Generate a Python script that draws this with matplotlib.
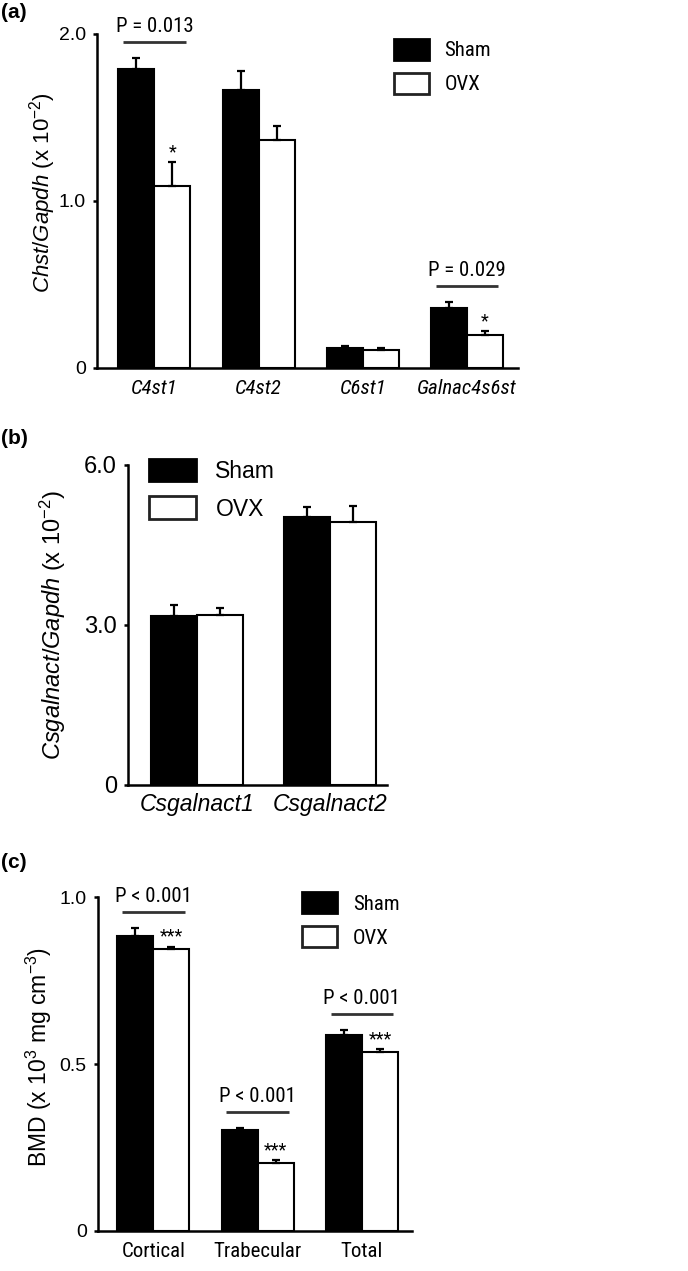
import matplotlib
matplotlib.use("Agg")
from matplotlib import pyplot as plt
from matplotlib import font_manager
from matplotlib.patches import Patch
import numpy as np

# BLOCK: fonts
# panels (a) and (c) use a condensed face, (b) and the axis titles a plain Arial-like one
installed = {f.name for f in font_manager.fontManager.ttflist}
narrow = "Liberation Sans"
for cand in ["Liberation Sans Narrow", "Roboto Condensed", "Archivo Narrow", "PT Sans Narrow"]:
  if cand in installed:
    narrow = cand
    break
plain = "Liberation Sans"
plt.rcParams["font.family"] = [plain, "DejaVu Sans"]
plt.rcParams["mathtext.fontset"] = "custom"
plt.rcParams["mathtext.rm"] = plain
plt.rcParams["mathtext.it"] = plain + ":italic"
plt.rcParams["mathtext.bf"] = plain + ":bold"

# BLOCK: data
# (a) Chst / Gapdh (x 10^-2)
genes_a = ["C4st1", "C4st2", "C6st1", "Galnac4s6st"]
sham_a = [1.79, 1.665, 0.118, 0.357]
sham_a_err = [0.065, 0.115, 0.013, 0.040]
ovx_a = [1.09, 1.365, 0.108, 0.198]
ovx_a_err = [0.145, 0.085, 0.010, 0.024]
stars_a = ["*", "", "", "*"]
pvals_a = ["P = 0.013", "", "", "P = 0.029"]

# (b) Csgalnact / Gapdh (x 10^-2)
genes_b = ["Csgalnact1", "Csgalnact2"]
sham_b = [3.16, 5.03]
sham_b_err = [0.22, 0.18]
ovx_b = [3.19, 4.93]
ovx_b_err = [0.12, 0.30]
stars_b = ["", ""]
pvals_b = ["", ""]

# (c) BMD (x 10^3 mg cm^-3)
sites_c = ["Cortical", "Trabecular", "Total"]
sham_c = [0.885, 0.302, 0.587]
sham_c_err = [0.022, 0.005, 0.015]
ovx_c = [0.844, 0.202, 0.537]
ovx_c_err = [0.008, 0.010, 0.007]
stars_c = ["***", "***", "***"]
pvals_c = ["P < 0.001", "P < 0.001", "P < 0.001"]

W = 0.345


def draw_panel(ax, labels, sham, sham_err, ovx, ovx_err, stars, pvals,
               ymax, yticks, yticklabels, ylabel, italic, xlim,
               legend_xy, handlelength, handletextpad,
               fam, fs, ytick_fs, ylabel_fs, xpad):
  x = np.arange(len(labels))
  ebar = dict(ecolor="black", elinewidth=1.6, capsize=3, capthick=1.6)
  ax.bar(x - W / 2, sham, W, yerr=[np.zeros(len(x)), sham_err],
         color="black", edgecolor="black", linewidth=1.5, error_kw=ebar, label="Sham")
  ax.bar(x + W / 2, ovx, W, yerr=[np.zeros(len(x)), ovx_err],
         color="white", edgecolor="black", linewidth=1.5, error_kw=ebar, label="OVX")

  for i in range(len(x)):
    top = max(sham[i] + sham_err[i], ovx[i] + ovx_err[i])
    if stars[i]:
      ax.annotate(stars[i], (x[i] + W / 2, ovx[i] + ovx_err[i]), xytext=(0, 3.5),
                  textcoords="offset points", ha="center", va="baseline",
                  fontsize=13, family=fam)
    if pvals[i]:
      ly = top + 0.048 * ymax
      ax.plot([x[i] - 0.30, x[i] + 0.30], [ly, ly], color="#333333", lw=2,
              clip_on=False, solid_capstyle="butt")
      ax.text(x[i], ly + 0.03 * ymax, pvals[i], ha="center", va="baseline",
              fontsize=fs, family=fam)

  ax.set_xlim(*xlim)
  ax.set_ylim(0, ymax)
  ax.set_yticks(yticks)
  ax.set_yticklabels(yticklabels, fontsize=ytick_fs, family=plain)
  ax.set_xticks(x)
  ax.set_xticklabels(labels, fontsize=fs, family=fam,
                     fontstyle="italic" if italic else "normal")
  ax.tick_params(axis="x", length=0, pad=xpad)
  ax.tick_params(axis="y", length=3, width=1.8, pad=5, direction="out")
  for s in ["top", "right"]:
    ax.spines[s].set_visible(False)
  for s in ["left", "bottom"]:
    ax.spines[s].set_linewidth(1.8)
  ax.set_ylabel(ylabel, fontsize=ylabel_fs, family=plain)

  handles = [Patch(facecolor="black", edgecolor="black", linewidth=2),
             Patch(facecolor="white", edgecolor="#222222", linewidth=2)]
  ax.legend(handles, ["Sham", "OVX"], loc="upper left", bbox_to_anchor=legend_xy,
            frameon=False, borderpad=0, borderaxespad=0,
            prop={"family": fam, "size": fs},
            handlelength=handlelength, handleheight=1.15,
            handletextpad=handletextpad, labelspacing=0.6)


fig = plt.figure(figsize=(6.88, 12.71), dpi=100)

ax_a = fig.add_axes([0.141, 0.7105, 0.612, 0.2628])
draw_panel(ax_a, genes_a, sham_a, sham_a_err, ovx_a, ovx_a_err, stars_a, pvals_a,
           2.0, [0, 1.0, 2.0], ["0", "1.0", "2.0"],
           r"$\mathit{Chst/Gapdh}$ (x 10$^{-2}$)", True, (-0.55, 3.49),
           (0.705, 0.985), 1.68, 0.75, narrow, 15, 14, 16, 8)
ax_a.yaxis.set_label_coords(-0.092, 0.525)

ax_b = fig.add_axes([0.186, 0.3824, 0.3765, 0.2518])
draw_panel(ax_b, genes_b, sham_b, sham_b_err, ovx_b, ovx_b_err, stars_b, pvals_b,
           6.0, [0, 3.0, 6.0], ["0", "3.0", "6.0"],
           r"$\mathit{Csgalnact/Gapdh}$ (x 10$^{-2}$)", True, (-0.52, 1.43),
           (0.081, 1.02), 2.05, 0.85, plain, 16.5, 17, 17, 6)
ax_b.yaxis.set_label_coords(-0.232, 0.5)

ax_c = fig.add_axes([0.1424, 0.0317, 0.4564, 0.2623])
draw_panel(ax_c, sites_c, sham_c, sham_c_err, ovx_c, ovx_c_err, stars_c, pvals_c,
           1.0, [0, 0.5, 1.0], ["0", "0.5", "1.0"],
           r"BMD (x 10$^{3}$ mg cm$^{-3}$)", False, (-0.53, 2.48),
           (0.65, 1.015), 1.68, 0.75, narrow, 15, 14, 16.5, 8)
ax_c.yaxis.set_label_coords(-0.14, 0.52)

for lab, yy in [("(a)", 12), ("(b)", 438), ("(c)", 863)]:
  fig.text(0.002, 1 - yy / 1271, lab, fontsize=15, fontweight="bold",
           va="center", ha="left", family=plain)

fig.savefig("out.png", dpi=100)
